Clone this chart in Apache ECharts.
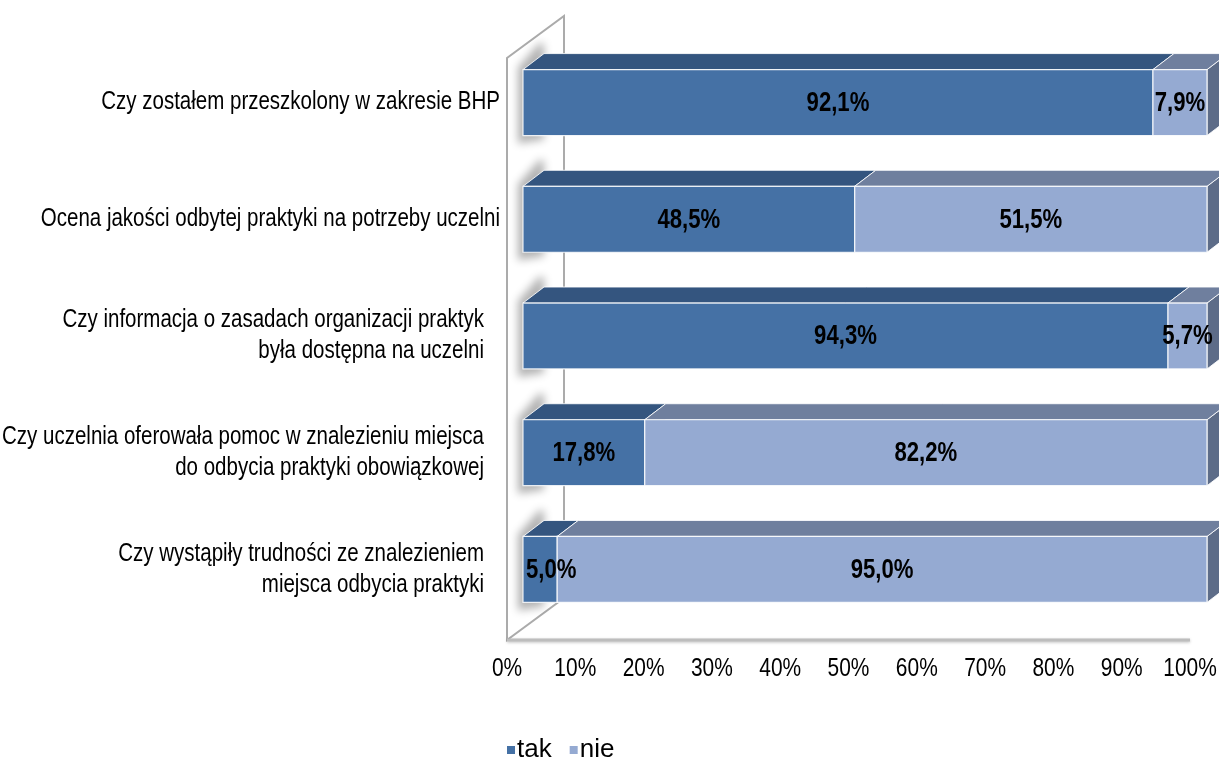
<!DOCTYPE html>
<html>
<head>
<meta charset="utf-8">
<script src="https://cdn.jsdelivr.net/npm/echarts@6/dist/echarts.min.js"></script>
<style>
  html, body { margin: 0; padding: 0; background: #fff; }
  #chart { width: 1219px; height: 760px; }
</style>
</head>
<body>
<div id="chart"></div>
<script>
// Survey questions (top to bottom) and the share of answers
const categories = [
  'Czy zostałem przeszkolony w zakresie BHP',
  'Ocena jakości odbytej praktyki na potrzeby uczelni',
  'Czy informacja o zasadach organizacji praktyk\nbyła dostępna na uczelni',
  'Czy uczelnia oferowała pomoc w znalezieniu miejsca\ndo odbycia praktyki obowiązkowej',
  'Czy wystąpiły trudności ze znalezieniem\nmiejsca odbycia praktyki'
];
const seriesNames = ['tak', 'nie'];
const takValues = [92.1, 48.5, 94.3, 17.8, 5.0];
const nieValues = [7.9, 51.5, 5.7, 82.2, 95.0];
const tickValues = [0, 10, 20, 30, 40, 50, 60, 70, 80, 90, 100];
const tickStep = 10;

// Narrow sans: regular sans squeezed horizontally
const FONT = "'Liberation Sans', Arial, sans-serif";
const NARROW = 0.82;

// Face colours of the 3D boxes: front, top, side
const palette = {
  tak: { front: '#4571A5', top: '#34557F', side: '#2C4A70' },
  nie: { front: '#95AAD2', top: '#6F7F9E', side: '#5D6C88' }
};

// Depth of the boxes and of the chart walls
const BOX_DX = 21, BOX_DY = 16;
const WALL_DX = 57, WALL_DY = 42;
const BAR_RATIO = 0.565;

const measureCtx = document.createElement('canvas').getContext('2d');
function textWidth(txt, size, weight) {
  measureCtx.font = weight + ' ' + size + 'px ' + FONT;
  return measureCtx.measureText(txt).width * NARROW;
}
function pct(v) { return v.toFixed(1).replace('.', ',') + '%'; }

// [category index, start, end, value]
const takData = takValues.map((v, i) => [i, 0, v, v]);
const nieData = nieValues.map((v, i) => [i, takValues[i], takValues[i] + v, v]);

function boxGeometry(api) {
  const cat = api.value(0);
  const a = api.coord([api.value(1), cat]);
  const b = api.coord([api.value(2), cat]);
  const h = api.size([0, 1])[1] * BAR_RATIO;
  return { x0: a[0], x1: b[0], y0: a[1] - h / 2, y1: a[1] + h / 2, h: h };
}

function makeBoxRenderer(colors, withShadow) {
  return function (params, api) {
    const g = boxGeometry(api);
    const edge = 'rgba(255,255,255,0.85)';
    const children = [];
    if (withShadow) {
      // soft shadow cast on the side wall by the left end of the box
      const off = 3000;
      children.push({
        type: 'polygon',
        shape: { points: [
          [g.x0 - 5 - off, g.y0 - 2], [g.x0 - 5 + BOX_DX - off, g.y0 - BOX_DY - 10],
          [g.x0 + BOX_DX - off, g.y0 - BOX_DY - 10], [g.x0 + BOX_DX - off, g.y1 + 4], [g.x0 - 5 - off, g.y1 + 8]
        ] },
        style: { fill: '#000', shadowBlur: 9, shadowColor: 'rgba(0,0,0,0.3)', shadowOffsetX: off },
        silent: true
      });
    }
    children.push({
      type: 'polygon',
      shape: { points: [[g.x1, g.y0], [g.x1 + BOX_DX, g.y0 - BOX_DY], [g.x1 + BOX_DX, g.y1 - BOX_DY], [g.x1, g.y1]] },
      style: { fill: colors.side, stroke: edge, lineWidth: 1 }
    });
    children.push({
      type: 'polygon',
      shape: { points: [[g.x0, g.y0], [g.x1, g.y0], [g.x1 + BOX_DX, g.y0 - BOX_DY], [g.x0 + BOX_DX, g.y0 - BOX_DY]] },
      style: { fill: colors.top, stroke: edge, lineWidth: 1 }
    });
    children.push({
      type: 'rect',
      shape: { x: g.x0, y: g.y0, width: g.x1 - g.x0, height: g.h },
      style: { fill: colors.front, stroke: edge, lineWidth: 1.2 }
    });
    return { type: 'group', children: children };
  };
}

// Percentage label centred on the front face of each segment
function renderValueLabel(params, api) {
  const g = boxGeometry(api);
  const label = pct(api.value(3));
  const w = textWidth(label, 27, 'bold');
  let lx = (g.x0 + g.x1) / 2;
  if (lx - w / 2 < g.x0 + 3 && g.x0 <= params.coordSys.x + 1) lx = g.x0 + 3 + w / 2;
  return {
    type: 'text', x: lx, y: (g.y0 + g.y1) / 2 + 1, scaleX: NARROW,
    style: {
      text: label, x: 0, y: 0, align: 'center', verticalAlign: 'middle',
      fontSize: 27, fontWeight: 'bold', fontFamily: FONT, fill: '#000'
    }
  };
}

// Question text to the left of each bar
function renderCategoryLabel(params, api) {
  const i = api.value(1);
  const p = api.coord([0, i]);
  const txt = categories[i];
  const multi = txt.indexOf('\n') >= 0;
  return {
    type: 'text', x: p[0] - (multi ? 39 : 23), y: p[1], scaleX: NARROW,
    style: {
      text: txt, x: 0, y: 0, align: 'right', verticalAlign: 'middle',
      fontSize: 25, lineHeight: 31, fontFamily: FONT, fill: '#000'
    }
  };
}

// Percent scale under the floor
function renderTickLabel(params, api) {
  const v = api.value(0);
  const p = api.coord([v, 0]);
  return {
    type: 'text', x: p[0], y: p[1] + 29, scaleX: NARROW,
    style: {
      text: v + '%', x: 0, y: 0, align: 'center', verticalAlign: 'middle',
      fontSize: 25.5, fontFamily: FONT, fill: '#000'
    }
  };
}

// Side wall and floor outline, drawn in the tick-label plane
function renderWalls(params, api) {
  const bl = api.coord([0, 0]);
  const tl = api.coord([0, 1]);
  const br = api.coord([100, 0]);
  return {
    type: 'group',
    children: [
      { type: 'polygon', shape: { points: [[bl[0], bl[1]], [tl[0], tl[1]], [tl[0] + WALL_DX, tl[1] - WALL_DY], [bl[0] + WALL_DX, bl[1] - WALL_DY]] },
        style: { fill: '#fff', stroke: '#ABABAB', lineWidth: 2 } },
      { type: 'line', shape: { x1: bl[0], y1: bl[1], x2: br[0], y2: br[1] },
        style: { stroke: '#BDBDBD', lineWidth: 3, shadowBlur: 3, shadowColor: 'rgba(0,0,0,0.25)', shadowOffsetY: 1 } }
    ]
  };
}

const chart = echarts.init(document.getElementById('chart'), null, { renderer: 'canvas' });

chart.setOption({
  backgroundColor: '#fff',
  animation: false,
  legend: {
    data: seriesNames,
    left: 502, top: 732,
    icon: 'rect', itemWidth: 8, itemHeight: 8, itemGap: 18,
    textStyle: { fontFamily: FONT, fontSize: 26, color: '#000', padding: [0, 0, 0, -3] }
  },
  grid: [
    { left: 523, width: 684, top: 44.2, height: 583.6, outerBoundsMode: 'none', containLabel: false },
    { left: 507, width: 683, top: 58, height: 582, outerBoundsMode: 'none', containLabel: false }
  ],
  xAxis: [
    { type: 'value', gridIndex: 0, min: 0, max: 100, interval: tickStep, show: false },
    { type: 'value', gridIndex: 1, min: 0, max: 100, interval: tickStep, show: false }
  ],
  yAxis: [
    {
      type: 'category', gridIndex: 0, data: categories, inverse: true,
      axisLine: { show: false }, axisTick: { show: false }, axisLabel: { show: false }
    },
    { type: 'value', gridIndex: 1, min: 0, max: 1, show: false }
  ],
  series: [
    {
      type: 'custom', name: 'walls', xAxisIndex: 1, yAxisIndex: 1, silent: true, z: 1,
      data: [[0, 0]], renderItem: renderWalls
    },
    {
      type: 'custom', name: 'scale', xAxisIndex: 1, yAxisIndex: 1, silent: true, z: 1,
      data: tickValues.map(v => [v, 0]), renderItem: renderTickLabel
    },
    {
      type: 'custom', name: 'questions', xAxisIndex: 0, yAxisIndex: 0, silent: true, z: 1,
      encode: { x: 0, y: 1 },
      data: categories.map((c, i) => [0, i]), renderItem: renderCategoryLabel
    },
    {
      type: 'custom', name: seriesNames[0], xAxisIndex: 0, yAxisIndex: 0, z: 2,
      itemStyle: { color: palette.tak.front },
      encode: { x: [1, 2], y: 0 },
      data: takData, renderItem: makeBoxRenderer(palette.tak, true)
    },
    {
      type: 'custom', name: seriesNames[1], xAxisIndex: 0, yAxisIndex: 0, z: 3,
      itemStyle: { color: palette.nie.front },
      encode: { x: [1, 2], y: 0 },
      data: nieData, renderItem: makeBoxRenderer(palette.nie, false)
    },
    {
      type: 'custom', name: 'values', xAxisIndex: 0, yAxisIndex: 0, silent: true, z: 10,
      encode: { x: [1, 2], y: 0 },
      data: takData.concat(nieData), renderItem: renderValueLabel
    }
  ]
});
</script>
</body>
</html>
